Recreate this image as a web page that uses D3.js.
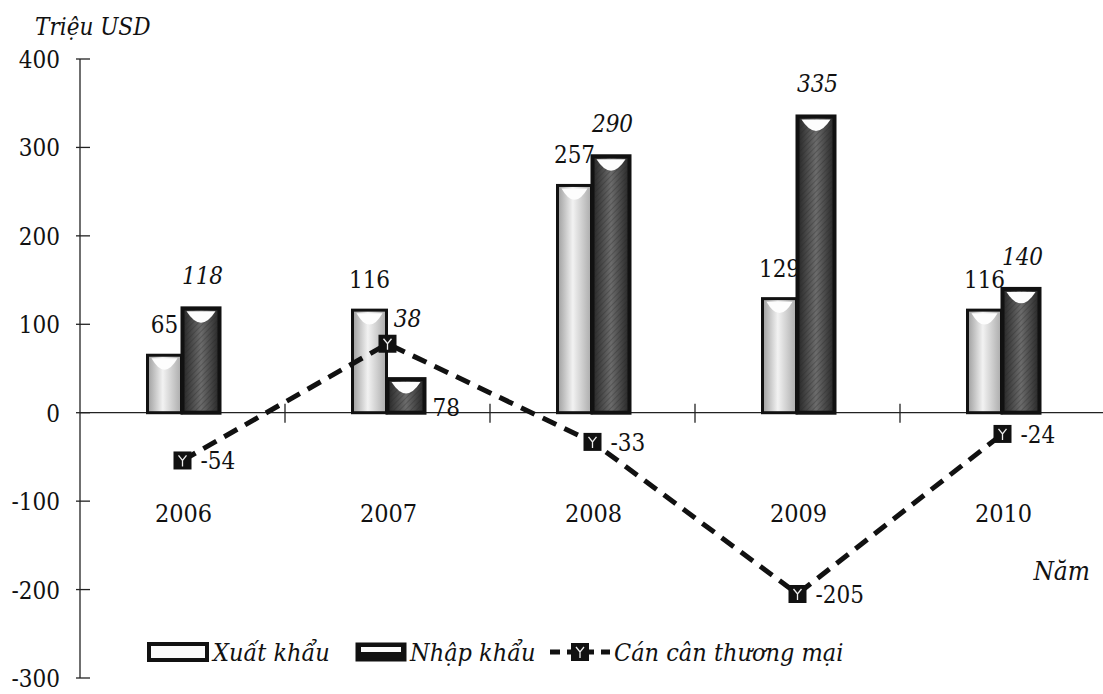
<!DOCTYPE html>
<html>
<head>
<meta charset="utf-8">
<script src="https://cdn.jsdelivr.net/npm/d3@7"></script>
<style>
  body { margin: 0; background: #fff; }
  svg text { fill: #111; }
</style>
</head>
<body>
<svg id="chart" width="1103" height="694"></svg>
<script>
// data
var years = ["2006", "2007", "2008", "2009", "2010"];
var xuatKhau = [65, 116, 257, 129, 116];
var nhapKhau = [118, 38, 290, 335, 140];
var canCan = [-54, 78, -33, -205, -24];
var yTicks = [400, 300, 200, 100, 0, -100, -200, -300];

var svg = d3.select("#chart");
var defs = svg.append("defs");

var x = d3.scaleBand().domain(years).range([80, 1105]).padding(0);
var y = d3.scaleLinear().domain([-300, 400]).range([678, 59]);

// light bar gradient (xuat khau)
var gLight = defs.append("linearGradient").attr("id", "light").attr("x1", 0).attr("x2", 1);
gLight.append("stop").attr("offset", "0%").attr("stop-color", "#9d9d9d");
gLight.append("stop").attr("offset", "45%").attr("stop-color", "#f2f2f2");
gLight.append("stop").attr("offset", "100%").attr("stop-color", "#aaaaaa");

// dark bar gradient + hatch (nhap khau)
var gDark = defs.append("linearGradient").attr("id", "dark").attr("x1", 0).attr("x2", 1);
gDark.append("stop").attr("offset", "0%").attr("stop-color", "#262626");
gDark.append("stop").attr("offset", "50%").attr("stop-color", "#6c6c6c");
gDark.append("stop").attr("offset", "100%").attr("stop-color", "#262626");
var hatch = defs.append("pattern").attr("id", "hatch")
    .attr("width", 4).attr("height", 4)
    .attr("patternUnits", "userSpaceOnUse")
    .attr("patternTransform", "rotate(45)");
hatch.append("line").attr("x1", 0).attr("y1", 0).attr("x2", 0).attr("y2", 4)
    .attr("stroke", "#222").attr("stroke-width", 1.2).attr("opacity", 0.5);

var serif = "'DejaVu Serif', serif";
function styleText(sel, size, italic) {
    sel.style("font-family", serif)
        .style("font-stretch", "condensed")
        .style("font-size", size + "px")
        .style("font-style", italic ? "italic" : "normal");
    return sel;
}

// y axis
svg.append("line")
    .attr("x1", 80).attr("x2", 80)
    .attr("y1", y(400)).attr("y2", y(-300))
    .attr("stroke", "#222").attr("stroke-width", 1.3);

svg.selectAll(".ytick").data(yTicks).enter().append("line")
    .attr("x1", 76).attr("x2", 90)
    .attr("y1", function(d) { return y(d); })
    .attr("y2", function(d) { return y(d); })
    .attr("stroke", "#222").attr("stroke-width", 1.3);

styleText(svg.selectAll(".ylab").data(yTicks).enter().append("text")
    .attr("x", 60)
    .attr("y", function(d) { return y(d) + 9; })
    .attr("text-anchor", "end")
    .text(function(d) { return d; }), 24, false);

// zero line and category ticks
svg.append("line")
    .attr("x1", 80).attr("x2", 1103)
    .attr("y1", y(0)).attr("y2", y(0))
    .attr("stroke", "#222").attr("stroke-width", 1.3);

svg.selectAll(".xtick").data(years.slice(1)).enter().append("line")
    .attr("x1", function(d) { return x(d); })
    .attr("x2", function(d) { return x(d); })
    .attr("y1", y(0) - 9).attr("y2", y(0) + 10)
    .attr("stroke", "#222").attr("stroke-width", 1.3);

styleText(svg.selectAll(".xlab").data(years).enter().append("text")
    .attr("x", function(d) { return x(d) + x.bandwidth() / 2 + 1; })
    .attr("y", 522)
    .attr("text-anchor", "middle")
    .text(function(d) { return d; }), 25, false);

// titles
styleText(svg.append("text").attr("x", 35).attr("y", 35).text("Triệu USD"), 24, true);
styleText(svg.append("text").attr("x", 1090).attr("y", 580)
    .attr("text-anchor", "end").text("Năm"), 26, true);

function cx(i) { return x(years[i]) + x.bandwidth() / 2; }

function drawBar(g, x0, w, v, dark) {
    var top = y(v), h = y(0) - y(v);
    g.append("rect")
        .attr("x", x0).attr("y", top).attr("width", w).attr("height", h)
        .attr("fill", dark ? "url(#dark)" : "url(#light)")
        .attr("stroke", "#111").attr("stroke-width", dark ? 4 : 3);
    if (dark) {
        g.append("rect")
            .attr("x", x0 + 2).attr("y", top + 2).attr("width", w - 4).attr("height", h - 4)
            .attr("fill", "url(#hatch)");
    }
    // white cup highlight at top
    var cupDepth = Math.min(12, h - 6);
    if (cupDepth > 3) {
        g.append("path")
            .attr("d", "M" + (x0 + 4) + "," + (top + 3) +
                " L" + (x0 + w - 4) + "," + (top + 3) +
                " Q" + (x0 + w / 2) + "," + (top + 3 + cupDepth * 1.9) + " " + (x0 + 4) + "," + (top + 3) + "Z")
            .attr("fill", "#fdfdfd");
    }
}

var bars = svg.append("g");
years.forEach(function(yr, i) {
    var c = cx(i);
    drawBar(bars, c - 35, 34, xuatKhau[i], false);
    drawBar(bars, c, 37, nhapKhau[i], true);
});

// bar value labels
styleText(svg.selectAll(".xkLab").data(xuatKhau).enter().append("text")
    .attr("x", function(d, i) { return cx(i) - 18; })
    .attr("y", function(d) { return y(d) - 22; })
    .attr("text-anchor", "middle")
    .text(function(d) { return d; }), 24, false);

styleText(svg.selectAll(".nkLab").data(nhapKhau).enter().append("text")
    .attr("x", function(d, i) { return cx(i) + 20; })
    .attr("y", function(d, i) {
        var ly = y(d) - 24, my = y(canCan[i]);
        if (Math.abs(ly - my) < 40) ly = my - 17;
        return ly;
    })
    .attr("text-anchor", "middle")
    .text(function(d) { return d; }), 24, true);

// balance line
var line = d3.line()
    .x(function(d, i) { return cx(i); })
    .y(function(d) { return y(d); });

svg.append("path")
    .datum(canCan)
    .attr("d", line)
    .attr("fill", "none")
    .attr("stroke", "#111")
    .attr("stroke-width", 5)
    .attr("stroke-dasharray", "15,9");

function marker(g, mx, my) {
    g.append("rect")
        .attr("x", mx - 9).attr("y", my - 9).attr("width", 18).attr("height", 18)
        .attr("fill", "#111");
    g.append("path")
        .attr("d", "M" + (mx - 4) + "," + (my - 5) + " L" + mx + "," + (my) + " L" + (mx + 4) + "," + (my - 5) +
            " M" + mx + "," + my + " L" + mx + "," + (my + 6))
        .attr("stroke", "#eee").attr("stroke-width", 1.3).attr("fill", "none");
}

var marks = svg.append("g");
canCan.forEach(function(v, i) { marker(marks, cx(i), y(v)); });

styleText(svg.selectAll(".ccLab").data(canCan).enter().append("text")
    .attr("x", function(d, i) { return d > 0 ? cx(i) + 45 : cx(i) + 18; })
    .attr("y", function(d) { return d > 0 ? y(0) + 3 : y(d) + 9; })
    .text(function(d) { return d; }), 24, false);

// legend
var lg = svg.append("g");
var ly = 652;
lg.append("rect").attr("x", 149).attr("y", ly - 8).attr("width", 58).attr("height", 16)
    .attr("fill", "#fafafa").attr("stroke", "#111").attr("stroke-width", 4);
styleText(lg.append("text").attr("x", 213).attr("y", ly + 9).text("Xuất khẩu"), 25, true);
lg.append("rect").attr("x", 357).attr("y", ly - 8).attr("width", 48).attr("height", 16)
    .attr("fill", "#111").attr("stroke", "#111").attr("stroke-width", 3);
lg.append("rect").attr("x", 361).attr("y", ly - 5).attr("width", 40).attr("height", 5)
    .attr("fill", "#fafafa");
styleText(lg.append("text").attr("x", 410).attr("y", ly + 9).text("Nhập khẩu"), 25, true);
lg.append("line").attr("x1", 550).attr("x2", 610).attr("y1", ly).attr("y2", ly)
    .attr("stroke", "#111").attr("stroke-width", 5).attr("stroke-dasharray", "10,7");
marker(lg, 580, ly);
styleText(lg.append("text").attr("x", 614).attr("y", ly + 9).text("Cán cân thương mại"), 25, true);
</script>
</body>
</html>
